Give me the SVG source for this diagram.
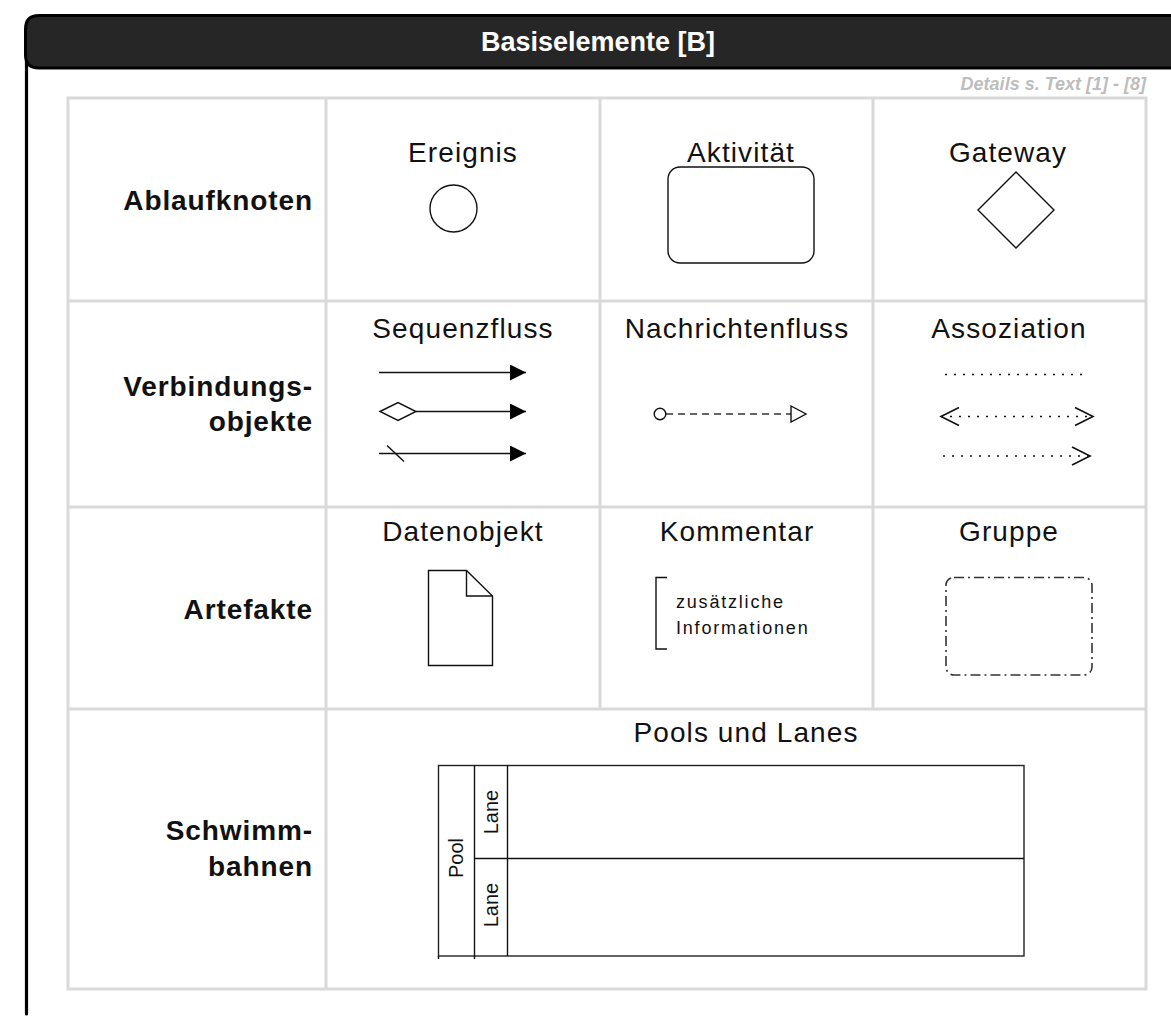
<svg xmlns="http://www.w3.org/2000/svg" width="1171" height="1017" viewBox="0 0 1171 1017">
<style>
.hdr{font-family:"Liberation Sans",Arial,sans-serif;font-size:27px;font-weight:bold;fill:#fff}
.det{font-family:"Liberation Sans",Arial,sans-serif;font-size:18px;font-weight:bold;font-style:italic;fill:#bdbdbd}
.rl{font-family:"Liberation Sans",Arial,sans-serif;font-size:28px;font-weight:bold;fill:#111;letter-spacing:0.9px;text-anchor:end}
.ch{font-family:"Liberation Sans",Arial,sans-serif;font-size:28px;fill:#111;letter-spacing:1.1px;text-anchor:middle}
.sm{font-family:"Liberation Sans",Arial,sans-serif;font-size:18px;fill:#111;letter-spacing:1.8px}
.ln{font-family:"Liberation Sans",Arial,sans-serif;font-size:20px;fill:#111;text-anchor:middle}
.grid{stroke:#d9d9d9;stroke-width:3;fill:none}
.shape{fill:#fff;stroke:#111;stroke-width:1.4}
.line{stroke:#111;stroke-width:1.4;fill:none}
.dot{stroke:#111;stroke-width:1.6;fill:none;stroke-dasharray:2 7}
</style>
<defs>
<marker id="seqArrow" markerUnits="userSpaceOnUse" markerWidth="16" markerHeight="16" viewBox="0 0 16 16" refX="16" refY="8" orient="auto">
<path d="M0,0 L16,8 L0,16 Z" fill="#000"/>
</marker>
<marker id="msgArrow" markerUnits="userSpaceOnUse" markerWidth="18" markerHeight="18" viewBox="0 0 18 18" refX="1" refY="9" orient="auto">
<path d="M1,1 L16,9 L1,17 Z" fill="#fff" stroke="#111" stroke-width="1.4"/>
</marker>
<marker id="msgStart" markerUnits="userSpaceOnUse" markerWidth="14" markerHeight="14" viewBox="0 0 14 14" refX="13" refY="7" orient="auto">
<circle cx="7" cy="7" r="5.8" fill="#fff" stroke="#111" stroke-width="1.4"/>
</marker>
<marker id="openArrow" markerUnits="userSpaceOnUse" markerWidth="22" markerHeight="22" viewBox="0 0 22 22" refX="20" refY="11" orient="auto-start-reverse">
<path d="M2,2 L20,11 L2,20" fill="none" stroke="#111" stroke-width="1.6"/>
</marker>
</defs>

<g id="frame">
<line x1="26.5" y1="60" x2="26.5" y2="1014" stroke="#000" stroke-width="3.2" stroke-linecap="round"/>
<path d="M1180,15.5 L39,15.5 Q25.5,15.5 25.5,29 L25.5,55 Q25.5,68 39,68 L1180,68 Z" fill="#262626" stroke="#000" stroke-width="3"/>
<text class="hdr" x="598" y="51" text-anchor="middle">Basiselemente [B]</text>
<text class="det" x="1146" y="90" text-anchor="end">Details s. Text [1] - [8]</text>
</g>

<g id="table" class="grid">
<rect x="68" y="98" width="1078" height="891"/>
<line x1="326" y1="98" x2="326" y2="989"/>
<line x1="600" y1="98" x2="600" y2="709"/>
<line x1="873" y1="98" x2="873" y2="709"/>
<line x1="68" y1="301" x2="1146" y2="301"/>
<line x1="68" y1="507" x2="1146" y2="507"/>
<line x1="68" y1="709" x2="1146" y2="709"/>
</g>

<g id="row-labels">
<text class="rl" x="313" y="210">Ablaufknoten</text>
<text class="rl" x="313" y="396">Verbindungs-</text>
<text class="rl" x="313" y="431">objekte</text>
<text class="rl" x="313" y="619">Artefakte</text>
<text class="rl" x="313" y="840">Schwimm-</text>
<text class="rl" x="313" y="876">bahnen</text>
</g>

<g id="ereignis">
<text class="ch" x="463" y="162">Ereignis</text>
<circle class="shape" cx="453.5" cy="208.5" r="23.5"/>
</g>
<g id="aktivitaet">
<text class="ch" x="741" y="162">Aktivität</text>
<rect class="shape" x="668" y="167" width="146" height="96" rx="12"/>
</g>
<g id="gateway">
<text class="ch" x="1008" y="162">Gateway</text>
<polygon class="shape" points="978,210 1016,172 1054,210 1016,248"/>
</g>

<g id="sequenzfluss">
<text class="ch" x="463" y="338">Sequenzfluss</text>
</g>
<g id="nachrichtenfluss">
<text class="ch" x="737" y="338">Nachrichtenfluss</text>
</g>
<g id="assoziation">
<text class="ch" x="1009" y="338">Assoziation</text>
</g>

<g id="connectors">
<line class="line" x1="379" y1="372.5" x2="526" y2="372.5" marker-end="url(#seqArrow)"/>
<polygon class="shape" points="380,411.5 398,402.5 416,411.5 398,420.5"/>
<line class="line" x1="416" y1="411.5" x2="526" y2="411.5" marker-end="url(#seqArrow)"/>
<line class="line" x1="379" y1="453.5" x2="526" y2="453.5" marker-end="url(#seqArrow)"/>
<line class="line" x1="387" y1="445.5" x2="404" y2="461.5"/>
<line x1="666" y1="414" x2="791" y2="414" stroke="#333" stroke-width="1.4" stroke-dasharray="7 5" marker-start="url(#msgStart)" marker-end="url(#msgArrow)"/>
<line class="dot" x1="945" y1="374.5" x2="1089" y2="374.5"/>
<line class="dot" x1="941" y1="416.5" x2="1093" y2="416.5" marker-start="url(#openArrow)" marker-end="url(#openArrow)"/>
<line class="dot" x1="943" y1="456" x2="1090" y2="456" marker-end="url(#openArrow)"/>
</g>

<g id="datenobjekt">
<text class="ch" x="463" y="541">Datenobjekt</text>
<path class="shape" d="M428.5,570.5 L466.5,570.5 L492.5,596 L492.5,665.5 L428.5,665.5 Z"/>
<path class="line" d="M466.5,570.5 L466.5,596 L492.5,596"/>
</g>
<g id="kommentar">
<text class="ch" x="737" y="541">Kommentar</text>
<path class="line" d="M667,577.5 L656,577.5 L656,649 L667,649"/>
<text class="sm" x="676" y="608">zusätzliche</text>
<text class="sm" x="676" y="634">Informationen</text>
</g>
<g id="gruppe">
<text class="ch" x="1009" y="541">Gruppe</text>
<rect x="946" y="577.5" width="146" height="97.5" rx="8" fill="none" stroke="#333" stroke-width="1.6" stroke-dasharray="10 4 2 4"/>
</g>

<g id="pools-lanes">
<text class="ch" x="746" y="742">Pools und Lanes</text>
<rect x="438.5" y="765.5" width="585.5" height="190.5" fill="none" stroke="#222" stroke-width="1.4"/>
<line class="line" x1="438.5" y1="956" x2="438.5" y2="959"/>
<line class="line" x1="474.5" y1="765.5" x2="474.5" y2="959"/>
<line class="line" x1="507.5" y1="765.5" x2="507.5" y2="956"/>
<line class="line" x1="474.5" y1="858.5" x2="1024" y2="858.5"/>
<text class="ln" transform="translate(463,858) rotate(-90)">Pool</text>
<text class="ln" transform="translate(498,812) rotate(-90)">Lane</text>
<text class="ln" transform="translate(498,905) rotate(-90)">Lane</text>
</g>
</svg>
